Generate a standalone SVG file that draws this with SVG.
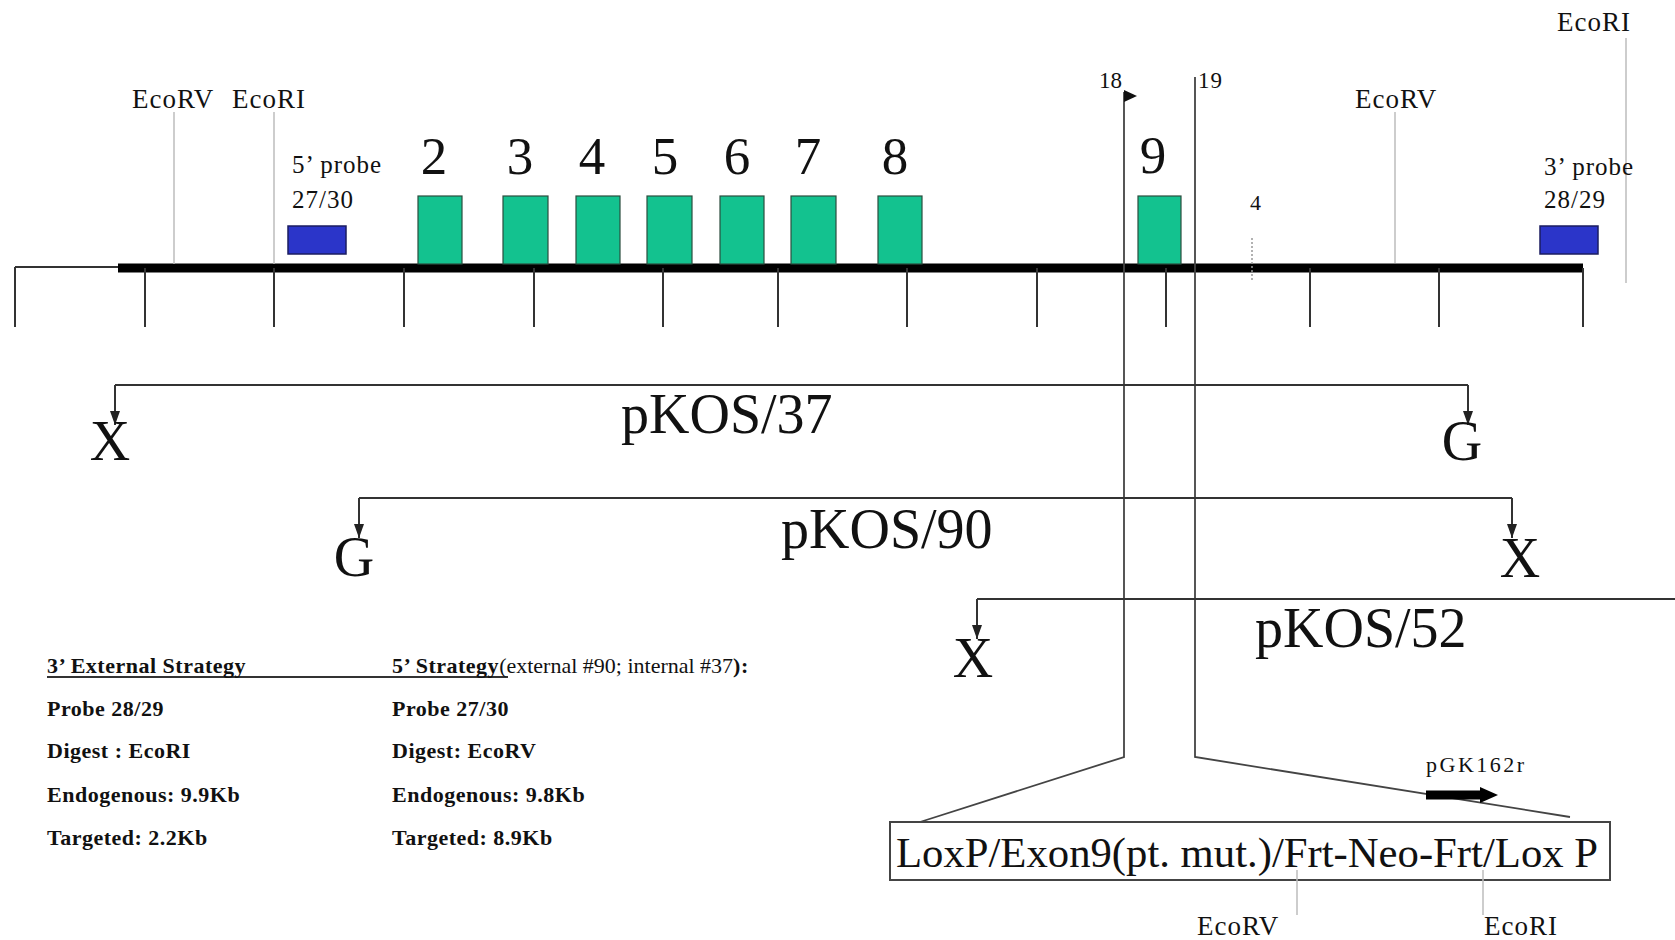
<svg xmlns="http://www.w3.org/2000/svg" width="1675" height="940" viewBox="0 0 1675 940">
<defs>
<style>
text{font-family:"Liberation Serif","Times New Roman",serif;fill:#111}
.site{font-size:27px;letter-spacing:1px}
.small{font-size:25px;letter-spacing:1px}
.num{font-size:53px;text-anchor:middle}
.big{font-size:56px}
.vec{font-size:56px;text-anchor:middle}
.tb{font-size:22px;font-weight:bold;letter-spacing:0.5px}
.tn{font-weight:normal;letter-spacing:0}
.exon{fill:#13c28f;stroke:#2b4d3e;stroke-width:1.2}
.probe{fill:#2b35c9;stroke:#1b1d60;stroke-width:1.5}
.tick{stroke:#333;stroke-width:2;fill:none}
.rsite{stroke:#bdbdbd;stroke-width:1.5;fill:none}
.conn{stroke:#333;stroke-width:2;fill:none}
.guide{stroke:#444;stroke-width:1.8;fill:none}
</style>
<marker id="ah" viewBox="0 0 10 14" refX="5" refY="13" markerWidth="10" markerHeight="14" markerUnits="userSpaceOnUse" orient="auto-start-reverse">
<path d="M0,0 L10,0 L5,14 Z" fill="#222" transform="rotate(-90 5 7) translate(-2 -2)"/>
</marker>
<marker id="ad" viewBox="0 0 10 14" refX="5" refY="14" markerWidth="10" markerHeight="14" markerUnits="userSpaceOnUse" orient="0">
<path d="M0,0 L10,0 L5,14 Z" fill="#222"/>
</marker>
</defs>
<rect width="1675" height="940" fill="#fff"/>

<g id="backbone">
<path class="tick" d="M15,267 H118 M15,267 V327"/>
<line x1="118" y1="268" x2="1583" y2="268" stroke="#000" stroke-width="9"/>
<path class="tick" d="M145,268V327 M274,268V327 M404,268V327 M534,268V327 M663,268V327 M778,268V327 M907,268V327 M1037,268V327 M1166,268V327 M1310,268V327 M1439,268V327 M1583,268V327"/>
<line x1="1252" y1="238" x2="1252" y2="280" stroke="#999" stroke-width="1.5" stroke-dasharray="2 2"/>
<text x="1250" y="210" style="font-size:22px">4</text>
</g>

<g id="site-ecorv-left"><line class="rsite" x1="174" y1="112" x2="174" y2="264"/><text class="site" x="132" y="108">EcoRV</text></g>
<g id="site-ecori-left"><line class="rsite" x1="274" y1="112" x2="274" y2="264"/><text class="site" x="232" y="108">EcoRI</text></g>
<g id="site-ecorv-right"><line class="rsite" x1="1395" y1="112" x2="1395" y2="263"/><text class="site" x="1355" y="108">EcoRV</text></g>
<g id="site-ecori-right"><line class="rsite" x1="1626" y1="38" x2="1626" y2="283"/><text class="site" x="1557" y="31">EcoRI</text></g>

<g id="probe-5"><rect class="probe" x="288" y="226" width="58" height="28"/><text class="small" x="292" y="173">5’ probe</text><text class="small" x="292" y="208">27/30</text></g>
<g id="probe-3"><rect class="probe" x="1540" y="226" width="58" height="28"/><text class="small" x="1544" y="175">3’ probe</text><text class="small" x="1544" y="208">28/29</text></g>

<g id="exon2"><rect class="exon" x="418" y="196" width="44" height="68"/><text class="num" x="434" y="174">2</text></g>
<g id="exon3"><rect class="exon" x="503" y="196" width="45" height="68"/><text class="num" x="520" y="174">3</text></g>
<g id="exon4"><rect class="exon" x="576" y="196" width="44" height="68"/><text class="num" x="592" y="174">4</text></g>
<g id="exon5"><rect class="exon" x="647" y="196" width="45" height="68"/><text class="num" x="665" y="174">5</text></g>
<g id="exon6"><rect class="exon" x="720" y="196" width="44" height="68"/><text class="num" x="737" y="174">6</text></g>
<g id="exon7"><rect class="exon" x="791" y="196" width="45" height="68"/><text class="num" x="808" y="174">7</text></g>
<g id="exon8"><rect class="exon" x="878" y="196" width="44" height="68"/><text class="num" x="895" y="174">8</text></g>
<g id="exon9"><rect class="exon" x="1138" y="196" width="43" height="68"/><text class="num" x="1153" y="173">9</text></g>

<g id="connectors">
<path class="guide" d="M1124,92 V757 L920,822"/>
<polygon points="1124,90 1137,96 1124,102" fill="#111"/>
<path class="guide" d="M1195,77 V757 L1570,817"/>
<path class="conn" d="M115,385 H1468" />
<path class="conn" d="M115,385 V425" marker-end="url(#ad)"/>
<path class="conn" d="M1468,385 V425" marker-end="url(#ad)"/>
<path class="conn" d="M359,498 H1512"/>
<path class="conn" d="M359,498 V538" marker-end="url(#ad)"/>
<path class="conn" d="M1512,498 V538" marker-end="url(#ad)"/>
<path class="conn" d="M977,599 H1675"/>
<path class="conn" d="M977,599 V639" marker-end="url(#ad)"/>
</g>

<g id="label-18"><text x="1099" y="88" style="font-size:23px">18</text></g>
<g id="label-19"><text x="1198" y="88" style="font-size:23px;letter-spacing:1px">19</text></g>

<g id="vector-pKOS37">
<text class="big" x="621" y="433">pKOS/37</text>
<text class="vec" x="110" y="460">X</text>
<text class="vec" x="1462" y="460">G</text>
</g>
<g id="vector-pKOS90">
<text class="big" x="781" y="548">pKOS/90</text>
<text class="vec" x="354" y="576">G</text>
<text class="vec" x="1520" y="577">X</text>
</g>
<g id="vector-pKOS52">
<text class="big" x="1255" y="647">pKOS/52</text>
<text class="vec" x="973" y="677">X</text>
</g>

<g id="strategy-table">
<line x1="47" y1="677" x2="508" y2="677" stroke="#333" stroke-width="2"/>
<text class="tb" x="47" y="673">3’ External Strategy</text>
<text class="tb" x="47" y="716">Probe 28/29</text>
<text class="tb" x="47" y="758">Digest : EcoRI</text>
<text class="tb" x="47" y="802">Endogenous: 9.9Kb</text>
<text class="tb" x="47" y="845">Targeted: 2.2Kb</text>
<text class="tb" x="392" y="673">5’ Strategy<tspan class="tn">(external #90; internal #37</tspan>):</text>
<text class="tb" x="392" y="716">Probe 27/30</text>
<text class="tb" x="392" y="758">Digest: EcoRV</text>
<text class="tb" x="392" y="802">Endogenous: 9.8Kb</text>
<text class="tb" x="392" y="845">Targeted: 8.9Kb</text>
</g>

<g id="cassette">
<rect x="890" y="822" width="720" height="58" fill="#fff" stroke="#444" stroke-width="2"/>
<text x="896" y="867" style="font-size:42px" textLength="702" lengthAdjust="spacingAndGlyphs">LoxP/Exon9(pt. mut.)/Frt-Neo-Frt/Lox P</text>
</g>
<g id="pGK162r">
<text x="1426" y="772" style="font-size:22px;letter-spacing:2.5px">pGK162r</text>
<line x1="1426" y1="795" x2="1482" y2="795" stroke="#000" stroke-width="9"/>
<polygon points="1480,787 1498,795 1480,803" fill="#000"/>
</g>
<g id="site-ecorv-bottom"><line class="rsite" x1="1297" y1="870" x2="1297" y2="915"/><text class="site" x="1197" y="935">EcoRV</text></g>
<g id="site-ecori-bottom"><line class="rsite" x1="1483" y1="870" x2="1483" y2="915"/><text class="site" x="1484" y="935">EcoRI</text></g>
</svg>
